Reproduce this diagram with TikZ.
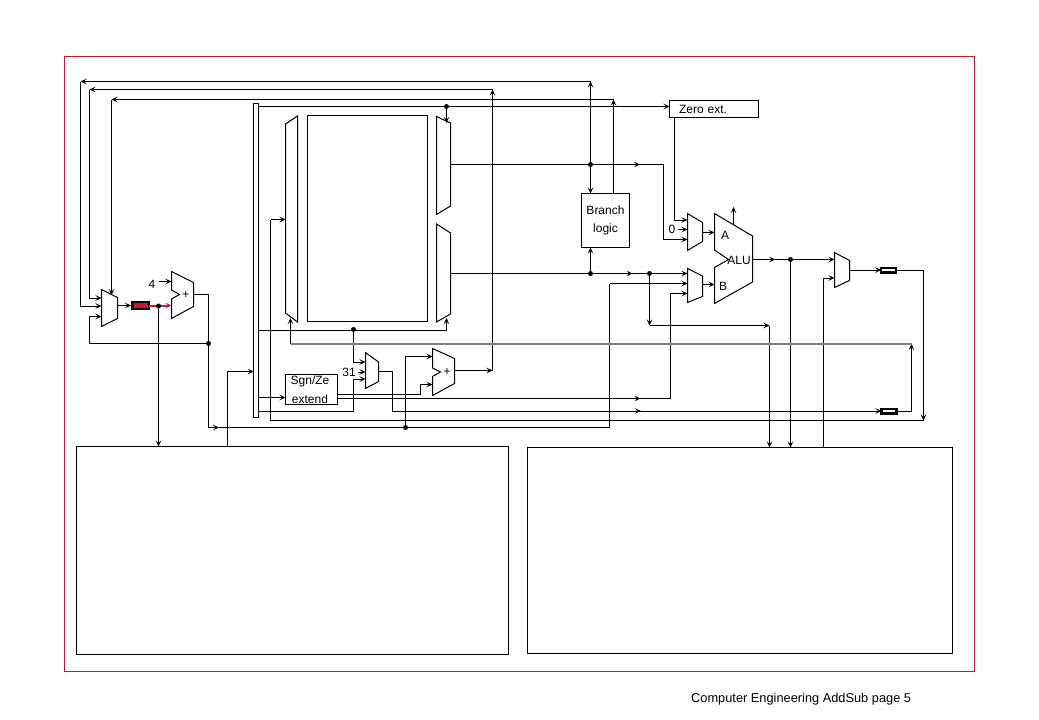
\documentclass[tikz,border=0pt]{standalone}
\usepackage{fontspec}
\setmainfont{Liberation Sans}
\usetikzlibrary{arrows.meta,decorations.markings}
\definecolor{framered}{RGB}{200,24,60}
\tikzset{
  wire/.style={line width=1pt},
  greywire/.style={line width=1.7pt, draw=black!50},
  midtip/.style={postaction={decorate},decoration={markings,mark=at position #1 with {\arrow{>}}}},
  unit/.style={draw, line width=1pt, fill=white},
  regbox/.style={draw, line width=1pt, fill=white, anchor=north west, outer sep=0pt, inner sep=0pt, align=center, font=\fontsize{12}{18}\selectfont},
  txt/.style={inner sep=0pt, font=\fontsize{12}{14}\selectfont},
  latch/.style={draw=black, line width=2.4pt, anchor=north west, outer sep=0pt, inner sep=0pt, fill=white}
}
\begin{document}
\begin{tikzpicture}[x=1pt,y=-1pt,>={Stealth[length=6pt,width=5.5pt,inset=2.5pt]}]
    \useasboundingbox (0,0) rectangle (1039,720);

    % Outer frame and the two big boxes
    \draw[framered, line width=1pt] (64.8,56.8) rectangle (974.5,671);
    \node[regbox, minimum width=432.5pt, minimum height=207.5pt] (ifbox) at (76,446.5) {};
    \node[regbox, minimum width=425pt, minimum height=206pt] (exbox) at (527.5,447.5) {};

    % Branch logic and the sign extension boxes
    \node[regbox, minimum width=48pt, minimum height=54pt] (branch) at (581.5,193.5) {Branch\\logic};
    \node[regbox, minimum width=88.5pt, minimum height=17pt, text width=88.5pt, align=left] (zero) at (669.5,100.5) {\hspace*{9.5pt}Zero ext.};
    \node[regbox, minimum width=52pt, minimum height=29.5pt] (sgn) at (285.5,374.5) {\hspace*{-3pt}\raisebox{2pt}{Sgn/Ze}\\[-1pt]\hspace*{-3pt}extend};

    % Register file and read/write muxes
    \node[regbox, minimum width=120.5pt, minimum height=206pt] (regs) at (307,115.5) {};
    \node[draw, line width=1pt, anchor=north west, outer sep=0pt, inner sep=0pt, minimum width=5pt, minimum height=314pt] (bus) at (253.7,103) {};
    \draw[unit] (285.5,124) -- (297.5,116) -- (297.5,322) -- (285.5,313) -- cycle;
    \draw[unit] (436.5,116.5) -- (450.5,123) -- (450.5,206) -- (436.5,214.5) -- cycle;
    \draw[unit] (436.5,224) -- (450.5,233) -- (450.5,314) -- (436.5,322) -- cycle;

    % Small muxes
    \draw[unit] (101.5,289.5) -- (117.5,297.5) -- (117.5,318.5) -- (101.5,326.5) -- cycle;
    \draw[unit] (365.5,352.5) -- (378.5,362) -- (378.5,381.5) -- (365.5,388.5) -- cycle;
    \draw[unit] (687.5,213.5) -- (702.5,222.5) -- (702.5,241.5) -- (687.5,250.5) -- cycle;
    \draw[unit] (687.5,268.5) -- (702.5,276) -- (702.5,296.5) -- (687.5,302.5) -- cycle;
    \draw[unit] (834.5,252.5) -- (849.5,260.5) -- (849.5,280.5) -- (834.5,287.5) -- cycle;

    % Adders and the ALU
    \draw[unit] (171.5,271.5) -- (193.5,282.5) -- (193.5,306.5) -- (171.5,318.5) -- (171.5,299) -- (179.5,294.5) -- (171.5,290) -- cycle;
    \draw[unit] (432.5,348.5) -- (454.5,358.5) -- (454.5,383.5) -- (432.5,395.5) -- (432.5,376.5) -- (440.5,372) -- (432.5,368) -- cycle;
    \draw[unit] (714.5,213.5) -- (752.5,236) -- (752.5,282) -- (714.5,303.5) -- (714.5,267.5) -- (728.5,259.5) -- (714.5,250) -- cycle;

    % Junction points
    \coordinate (pcdot) at (158.5,306);
    \coordinate (nextpc) at (208.5,343.5);
    \coordinate (rdot) at (353.5,329.5);
    \coordinate (wdot) at (446.5,106.5);
    \coordinate (seqdot) at (405.5,427.5);
    \coordinate (adot) at (590.5,164.5);
    \coordinate (bdot) at (590.5,273.5);
    \coordinate (fwdot) at (649.5,273.5);
    \coordinate (aludot) at (790.5,259.5);

    % Return paths to the PC mux
    \coordinate (retA) at (590.5,81.5);
    \coordinate (retB) at (492.5,89.5);
    \coordinate (retC) at (613.5,99.5);
    \draw[wire,->] (adot) -- (retA);
    \draw[wire,->] (retA) -- (80.5,81.5);
    \draw[wire,->] (80.5,81.5) |- (101.5,306);
    \draw[wire,->] (retB) -- (89.5,89.5);
    \draw[wire,->] (89.5,89.5) |- (101.5,298);
    \draw[wire,->] (retC) -- (111.5,99.5);
    \draw[wire,->] (111.5,99.5) -- (111.5,295);
    \draw[wire,->] (branch.north -| retC) -- (retC);
    \draw[wire,->] (nextpc) -| (89.5,316.5) -- (101.5,316.5);

    % PC and next PC adder
    \draw[wire,->] (117.5,305.5) -- (131,305.5);
    \node[latch, minimum width=16.3pt, minimum height=6.6pt, fill=framered] (pc) at (132.5,302.2) {};
    \draw[framered, line width=2pt, ->] (pc.east) -- (171.5,305.5);
    \draw[wire,->] (pcdot) -- (pcdot |- ifbox.north);
    \node[txt] (four) at (152,284) {4};
    \draw[wire,->] (159,281.5) -- (171.5,281.5);
    \node[txt] (plusA) at (186,295) {+};
    \draw[wire] (193.5,294.5) -- (208.5,294.5) -- (208.5,427.5);
    \draw[wire,->] (208.5,427.5) -- (219,427.5);
    \draw[wire] (219,427.5) -| (609.5,283.5);
    \draw[wire,->] (609.5,283.5) -- (687.5,283.5);

    % Instruction into the bus, bus outputs
    \draw[wire,->] (ifbox.north west -| 227.5,0) |- (bus.west |- 0,371.5);
    \draw[wire] (bus.east |- wdot) -- (wdot);
    \draw[wire,->] (wdot) -- (zero.west |- wdot);
    \draw[wire,->] (wdot) -- (446.5,123);
    \draw[wire,->] (bus.east |- 0,397.5) -- (sgn.west |- 0,397.5);
    \draw[wire,->] (bus.east |- 0,330.5) -| (446.5,318);
    \draw[wire,->] (rdot) |- (365.5,362);
    \draw[wire,->] (bus.east |- 0,411.5) -| (353.5,379) -- (365.5,379);
    \node[txt] (thirtyone) at (349,372.5) {31};
    \draw[wire,->] (358,372) -- (365.5,372);

    % Sign extension and branch adder
    \draw[wire,->] (sgn.east |- 0,394.5) -- (420.5,394.5) |- (432.5,384.5);
    \draw[wire,->] (seqdot) |- (432.5,356.5);
    \node[txt] (plusB) at (447,372) {+};
    \draw[wire,->] (454.5,370.5) -- (492.5,370.5);
    \draw[wire,->] (492.5,370.5) -- (retB);
    \draw[wire,midtip=0.91] (sgn.east |- 0,398.5) -- (670.5,398.5);
    \draw[wire,->] (670.5,398.5) |- (687.5,293.5);
    \draw[wire] (378.5,371.5) -- (392.5,371.5) -- (392.5,411.5);

    % Register read ports
    \draw[wire,midtip=0.89] (450.5,164.5) -- (663.5,164.5);
    \draw[wire,->] (663.5,164.5) |- (687.5,239.5);
    \draw[wire,midtip=0.915] (450.5,273.5) -- (649.5,273.5);
    \draw[wire,->] (fwdot) -- (687.5,273.5);
    \draw[wire,->] (adot) -- (branch.north -| adot);
    \draw[wire,->] (bdot) -- (branch.south -| bdot);

    % Forwarding to the memory box
    \draw[wire,->] (fwdot) -- (649.5,325.5);
    \draw[wire,->] (649.5,325.5) -- (769.5,325.5);
    \draw[wire,->] (769.5,325.5) -- (exbox.north -| 769.5,0);

    % Zero extension into mux A
    \draw[wire,->] (zero.south -| 674.5,0) |- (687.5,220);
    \node[txt] (zerolit) at (672,229.5) {0};
    \draw[wire,->] (678,229.5) -- (687.5,229.5);

    % ALU
    \draw[wire,->] (702.5,232.5) -- (714.5,232.5);
    \draw[wire,->] (702.5,284.5) -- (714.5,284.5);
    \draw[wire,->] (733.5,225) -- (733.5,207);
    \node[txt] (labA) at (725,235) {A};
    \node[txt] (labB) at (723,286.5) {B};
    \node[txt] (labalu) at (739,260) {ALU};
    \draw[wire,midtip=0.6] (752.5,259.5) -- (aludot);
    \draw[wire,->] (aludot) -- (834.5,259.5);
    \draw[wire,->] (aludot) -- (aludot |- exbox.north);

    % Last mux, write back latch and the return wires
    \draw[wire,->] (exbox.north -| 823.5,0) |- (834.5,278);
    \node[latch, minimum width=14.6pt, minimum height=4.6pt] (wbtop) at (881.2,267.7) {};
    \node[latch, minimum width=15pt, minimum height=4.6pt] (wblow) at (881.5,408.7) {};
    \draw[wire,->] (849.5,270) -- (wbtop.west);
    \draw[wire,->,midtip=0.508] (392.5,411) -- (wblow.west);
    \draw[wire,->] (wbtop.east) -| (923.5,420.5);
    \draw[wire] (923.5,420.5) -| (270.5,219.5);
    \draw[wire,->] (270.5,219.5) -- (285.5,219.5);
    \draw[wire,->] (wblow.east) -| (911.5,344);
    \draw[greywire] (911.5,344) -- (290.5,344);
    \draw[wire,->] (290.5,344) -- (290.5,318);

    % Junction dots
    \foreach \p in {pcdot,nextpc,rdot,wdot,seqdot,adot,bdot,fwdot,aludot}
        \fill (\p) circle (2.5);

    % Footer
    \node[anchor=west, inner sep=0pt, font=\fontsize{12.8}{14}\selectfont] (footer) at (691,699) {Computer Engineering AddSub page 5};

\end{tikzpicture}
\end{document}
